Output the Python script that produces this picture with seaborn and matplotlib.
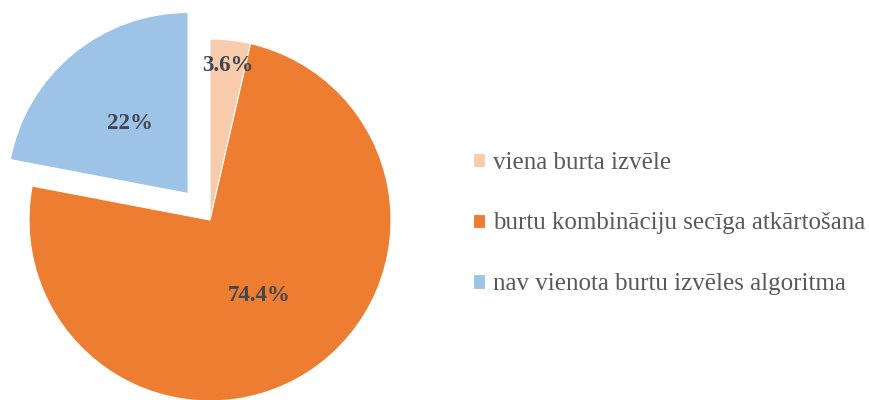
import matplotlib
matplotlib.use("Agg")
import matplotlib.pyplot as plt
import numpy as np
import seaborn as sns

# Survey answers and their shares (percent)
categories = [
    "viena burta izvēle",
    "burtu kombināciju secīga atkārtošana",
    "nav vienota burtu izvēles algoritma",
]
shares = [3.6, 74.4, 22]
colors = ["#F8CBAD", "#ED7D31", "#9DC3E6"]
explode = [0, 0, 0.19]

sns.set_theme(style="white")
plt.rcParams["font.family"] = ["Liberation Serif", "DejaVu Serif"]

W, H, DPI = 870, 400, 100
fig = plt.figure(figsize=(W / DPI, H / DPI), dpi=DPI)
ax = fig.add_axes([0, 0, 1, 1])

wedges, texts, autotexts = ax.pie(
    shares,
    colors=colors,
    explode=explode,
    startangle=90,
    counterclock=False,
    radius=1,
    pctdistance=0.5,
    autopct=lambda p: "{:g}%".format(round(p, 1)),
    wedgeprops=dict(edgecolor="white", linewidth=0.8),
    textprops=dict(fontsize=16.5, fontweight="bold", color="#424650"),
)

# the thin slice gets its label pushed out towards the rim
w0 = wedges[0]
mid = np.deg2rad((w0.theta1 + w0.theta2) / 2)
autotexts[0].set_position((0.86 * np.cos(mid), 0.86 * np.sin(mid)))

# pie centre at (210, 220) px from top-left, radius ~181 px
r_px = 181.0
cx, cy = 210.0, 220.0
ax.set_xlim(-cx / r_px, (W - cx) / r_px)
ax.set_ylim(-(H - cy) / r_px, cy / r_px)
ax.set_aspect("auto")
ax.axis("off")

leg = ax.legend(
    wedges,
    categories,
    loc="center left",
    bbox_to_anchor=(473 / W, 1 - 223.5 / H),
    bbox_transform=fig.transFigure,
    frameon=False,
    fontsize=18,
    handlelength=0.5,
    handleheight=0.5,
    handletextpad=0.3,
    labelspacing=1.55,
    borderpad=0,
    borderaxespad=0,
    labelcolor="#595959",
)

fig.savefig("out.png", dpi=DPI, facecolor="white")
